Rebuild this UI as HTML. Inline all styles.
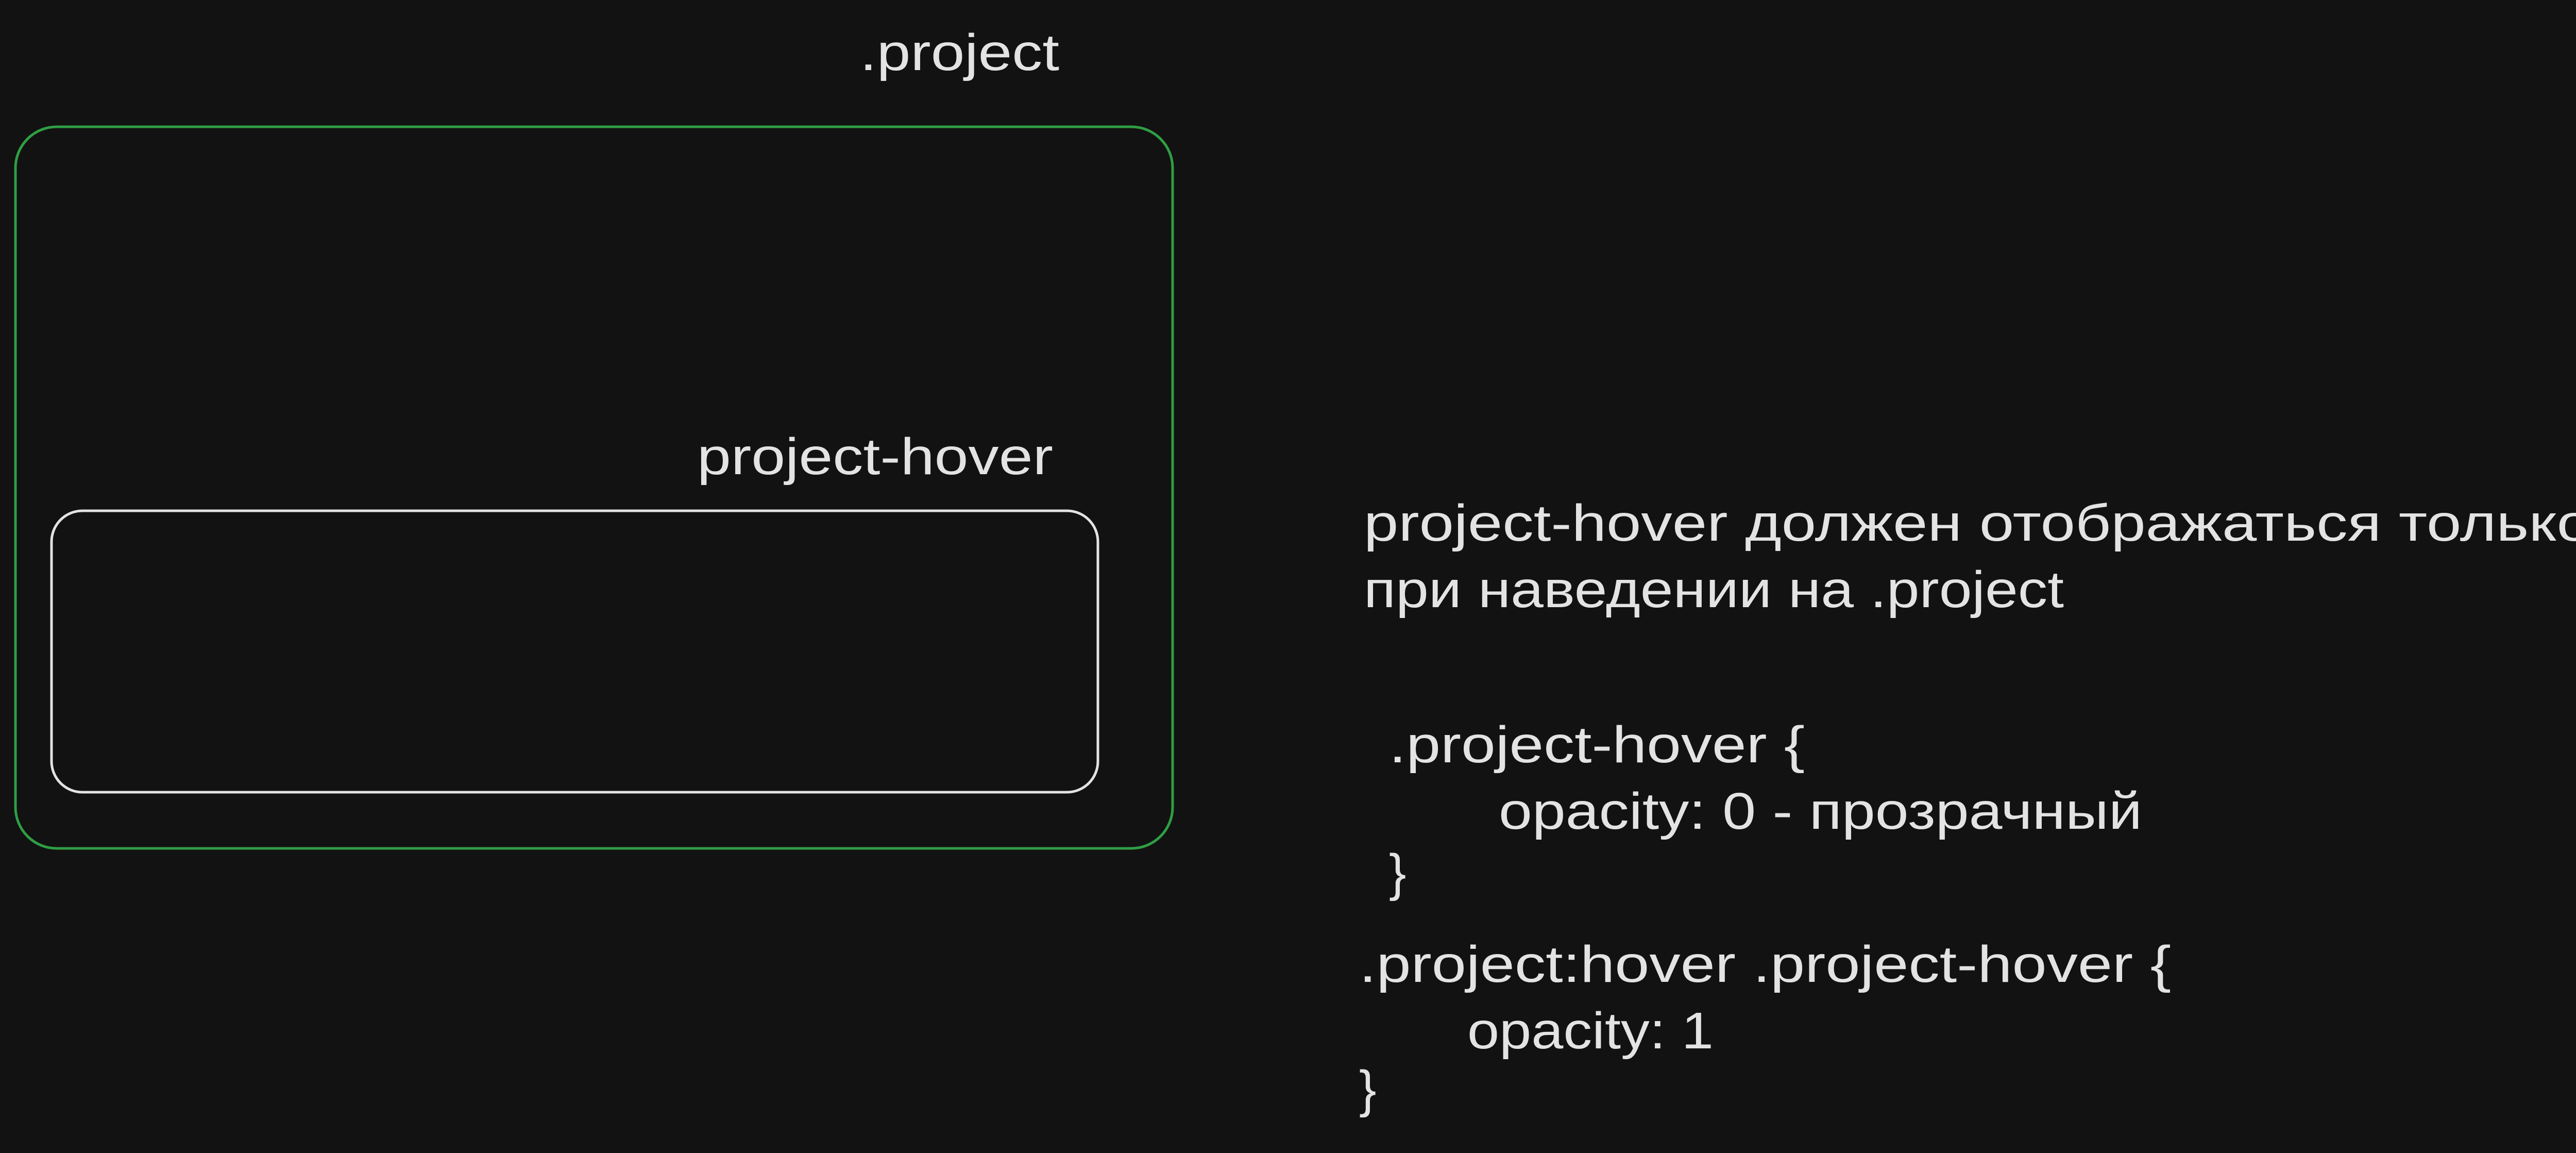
<!DOCTYPE html>
<html><head><meta charset="utf-8"><style>
html,body{margin:0;padding:0;background:#121212;}
svg{display:block;}
text{font-family:"Liberation Sans","DejaVu Sans",sans-serif;fill:#e3e3e3;font-size:100px;}
</style></head><body>
<svg width="5062" height="2237" viewBox="0 0 5062 2237" xmlns="http://www.w3.org/2000/svg">
<rect width="5062" height="2237" fill="#121212"/>
<rect x="30" y="246" width="2246" height="1400" rx="80" fill="none" stroke="#2f9e44" stroke-width="5"/>
<rect x="100" y="991" width="2031" height="546" rx="60" fill="none" stroke="#e3e3e3" stroke-width="5"/>
<text x="1669" y="136" textLength="387" lengthAdjust="spacingAndGlyphs">.project</text>
<text x="1353" y="920" textLength="691" lengthAdjust="spacingAndGlyphs">project-hover</text>
<text x="2647" y="1049" textLength="2383" lengthAdjust="spacingAndGlyphs">project-hover  должен отображаться только</text>
<text x="2647" y="1178" textLength="1359" lengthAdjust="spacingAndGlyphs">при наведении на .project</text>
<text x="2696" y="1479" textLength="807" lengthAdjust="spacingAndGlyphs">.project-hover {</text>
<text x="2909" y="1608" textLength="1249" lengthAdjust="spacingAndGlyphs">opacity: 0 - прозрачный</text>
<text x="2696" y="1727">}</text>
<text x="2638" y="1905" textLength="1576" lengthAdjust="spacingAndGlyphs">.project:hover .project-hover {</text>
<text x="2848" y="2034" textLength="478" lengthAdjust="spacingAndGlyphs">opacity: 1</text>
<text x="2638" y="2147">}</text>
</svg>
</body></html>
